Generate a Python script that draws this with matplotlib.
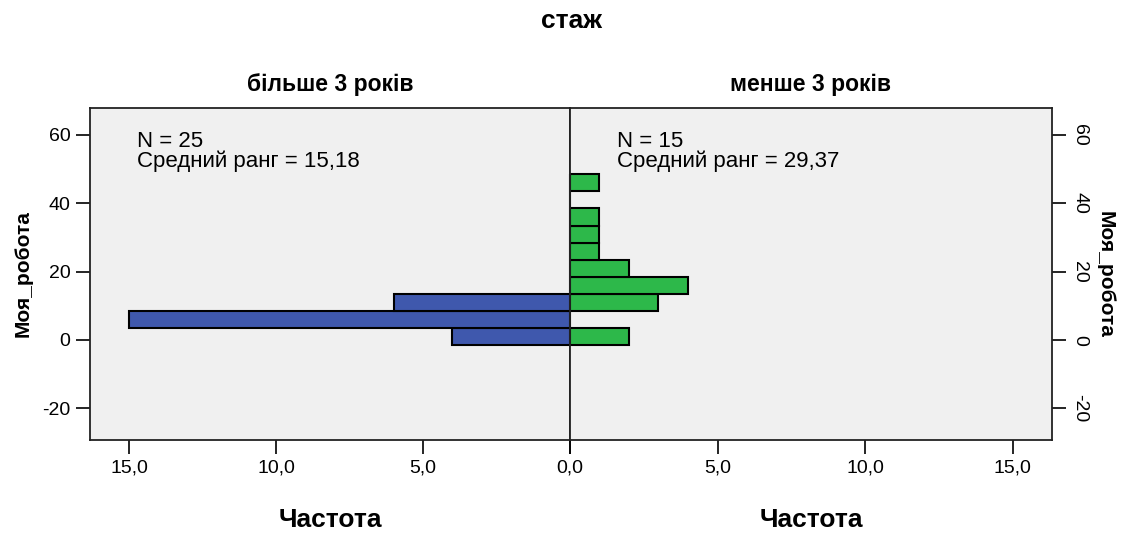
import matplotlib.pyplot as plt

plt.rcParams['font.family'] = ['Liberation Sans', 'DejaVu Sans']
plt.rcParams['axes.unicode_minus'] = False

# bin centres of "Моя_робота" (bin width 5)
bins = [1, 6, 11, 16, 21, 26, 31, 36, 41, 46]
# frequencies per group
more_3 = [4, 15, 6, 0, 0, 0, 0, 0, 0, 0]
less_3 = [2, 0, 3, 4, 2, 1, 1, 1, 0, 1]
groups = ["більше 3 років", "менше 3 років"]
n_vals = [25, 15]
mean_ranks = ["15,18", "29,37"]
xticks = [0, 5, 10, 15]
yticks = [-20, 0, 20, 40, 60]

bg = "#f0f0f0"
blue = "#3f58ad"
green = "#2db84a"
bin_w = 5
xmax = 16.33
ylim = (-29.3, 67.9)

fig = plt.figure(figsize=(11.36, 5.36), dpi=100)
axl = fig.add_axes([0.0792, 0.179, 0.4225, 0.6195])
axr = fig.add_axes([0.5017, 0.179, 0.4243, 0.6195])

axl.barh(bins, more_3, height=bin_w, color=blue, edgecolor="black", linewidth=1.5)
axr.barh(bins, less_3, height=bin_w, color=green, edgecolor="black", linewidth=1.5)

axl.set_xlim(xmax, 0)
axr.set_xlim(0, xmax)

for ax, name, n, mr in zip([axl, axr], groups, n_vals, mean_ranks):
    ax.set_facecolor(bg)
    ax.set_ylim(*ylim)
    ax.set_xticks(xticks)
    labels = [f"{t:.1f}".replace(".", ",") for t in xticks]
    if ax is axr:
        labels[0] = ""  # 0,0 is drawn once, by the left panel
    ax.set_xticklabels(labels)
    ax.set_yticks(yticks)
    ax.tick_params(direction="out", length=10, width=1.2, labelsize=14, colors="black", pad=4)
    for s in ax.spines.values():
        s.set_linewidth(1.3)
        s.set_color("#222222")
    ax.set_title(name, fontsize=16.5, fontweight="bold", pad=12)
    ax.set_xlabel("Частота", fontsize=19, fontweight="bold", labelpad=23)
    ax.text(0.097, 0.93, f"N = {n}\nСредний ранг = {mr}",
            transform=ax.transAxes, fontsize=16, va="top", ha="left", linespacing=0.92)

axl.set_ylabel("Моя_робота", fontsize=15, fontweight="bold", labelpad=7)

axr.yaxis.tick_right()
axr.yaxis.set_label_position("right")
axr.tick_params(axis="y", labelrotation=-90)
for lab in axr.get_yticklabels():
    lab.set_va("center")
axr.set_ylabel("Моя_робота", fontsize=15, fontweight="bold", rotation=-90, labelpad=19)

fig.text(0.5027, 0.96, "стаж", fontsize=19, fontweight="bold", ha="center", va="center")

fig.savefig("out.png", dpi=100)
